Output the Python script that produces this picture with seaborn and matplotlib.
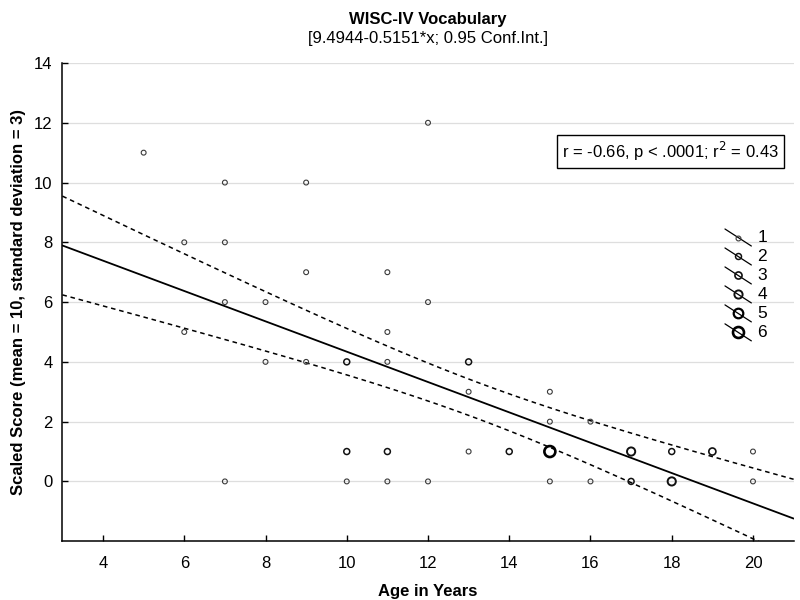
import numpy as np
import pandas as pd
import matplotlib
matplotlib.use("Agg")
import matplotlib.pyplot as plt
import seaborn as sns
from matplotlib.lines import Line2D
from matplotlib.legend_handler import HandlerBase

# =========================
# DATA (age, score, number of overlapping cases)
# =========================
age = [5, 6, 6, 7, 7, 7, 7, 8, 8, 9, 9, 9, 10, 10, 10,
       11, 11, 11, 11, 11, 12, 12, 12, 13, 13, 13, 14,
       15, 15, 15, 15, 16, 16, 17, 17, 18, 18, 19, 20, 20]
score = [11, 8, 5, 10, 8, 6, 0, 6, 4, 10, 7, 4, 4, 1, 0,
         7, 5, 4, 1, 0, 12, 6, 0, 4, 3, 1, 1,
         3, 2, 1, 0, 2, 0, 1, 0, 1, 0, 1, 1, 0]
count = [1, 1, 1, 1, 1, 1, 1, 1, 1, 1, 1, 1, 2, 2, 1,
         1, 1, 1, 2, 1, 1, 1, 1, 2, 1, 1, 2,
         1, 1, 6, 1, 1, 1, 4, 2, 2, 4, 3, 1, 1]

x_ticks = [4, 6, 8, 10, 12, 14, 16, 18, 20]
y_ticks = [0, 2, 4, 6, 8, 10, 12, 14]

df = pd.DataFrame({"age": age, "score": score, "n": count})

# =========================
# REGRESSION + 95% CI (weighted by case count)
# =========================
xs = np.repeat(df["age"].values, df["n"].values).astype(float)
ys = np.repeat(df["score"].values, df["n"].values).astype(float)
N = len(xs)
slope, intercept = np.polyfit(xs, ys, 1)
resid = ys - (intercept + slope * xs)
s = np.sqrt(np.sum(resid ** 2) / (N - 2))
sxx = np.sum((xs - xs.mean()) ** 2)
t = 2.0017  # t(0.975, 58)

grid = np.linspace(3, 21, 200)
fit = intercept + slope * grid
se = s * np.sqrt(1 / N + (grid - xs.mean()) ** 2 / sxx)
lines = pd.DataFrame({"age": grid, "fit": fit, "lo": fit - t * se, "hi": fit + t * se})

# =========================
# STYLE
# =========================
sns.set_theme(style="white")
plt.rcParams["font.family"] = ["Liberation Sans", "DejaVu Sans"]
plt.rcParams["text.color"] = "black"
plt.rcParams["axes.labelcolor"] = "black"

fig = plt.figure(figsize=(8, 6), dpi=100)
ax = fig.add_axes([0.078, 0.098, 0.914, 0.797])

ax.grid(axis="y", color="#dedede", linewidth=0.9)
ax.set_axisbelow(True)

# fit + confidence lines
sns.lineplot(data=lines, x="age", y="fit", color="black", linewidth=1.3, ax=ax)
sns.lineplot(data=lines, x="age", y="lo", color="black", linewidth=1.1, ax=ax)
ax.lines[-1].set_dashes((3, 2.5))
sns.lineplot(data=lines, x="age", y="hi", color="black", linewidth=1.1, ax=ax)
ax.lines[-1].set_dashes((3, 2.5))

# points, one call per overlap count
diam = {1: 3.5, 2: 4.3, 3: 5.1, 4: 5.9, 5: 6.9, 6: 7.9}
lw = {1: 0.8, 2: 1.1, 3: 1.2, 4: 1.4, 5: 1.6, 6: 1.9}
col = {1: "#3a3a3a", 2: "#111111", 3: "#111111", 4: "#111111", 5: "black", 6: "black"}
for k in sorted(df["n"].unique()):
    sub = df[df["n"] == k]
    sns.scatterplot(x=sub["age"], y=sub["score"], s=diam[k] ** 2, marker="o",
                    facecolors="none", edgecolor=col[k], linewidth=lw[k],
                    zorder=3, legend=False, ax=ax)

# =========================
# AXES
# =========================
ax.set_xlim(3, 21)
ax.set_ylim(-2, 14)
ax.set_xticks(x_ticks)
ax.set_yticks(y_ticks)
ax.tick_params(axis="both", direction="in", length=4, width=1, colors="black",
               labelsize=12, bottom=True, left=True, pad=7)
ax.tick_params(axis="x", pad=11)
for side in ["top", "right"]:
    ax.spines[side].set_visible(False)
for side in ["left", "bottom"]:
    ax.spines[side].set_color("black")
    ax.spines[side].set_linewidth(1.1)

ax.set_xlabel("Age in Years", fontsize=12, fontweight="bold", labelpad=9)
ax.set_ylabel("Scaled Score (mean = 10, standard deviation = 3)", fontsize=12,
              fontweight="bold", labelpad=6)

ax.text(0.5, 1.090, "WISC-IV Vocabulary", transform=ax.transAxes, ha="center",
        va="center", fontsize=12, fontweight="bold")
ax.text(0.5, 1.052, "[9.4944-0.5151*x; 0.95 Conf.Int.]", transform=ax.transAxes,
        ha="center", va="center", fontsize=12)

ax.text(0.832, 0.814, r"r = -0.66, p < .0001; r$^2$ = 0.43", transform=ax.transAxes,
        ha="center", va="center", fontsize=12,
        bbox=dict(boxstyle="square,pad=0.3", fc="white", ec="black", lw=1))


# =========================
# LEGEND (diagonal line through marker)
# =========================
class DiagHandler(HandlerBase):
    def create_artists(self, legend, orig, xd, yd, w, h, fontsize, trans):
        ln = Line2D([xd + w * 0.1, xd + w * 0.9], [yd + h * 1.1, yd - h * 0.3],
                    color="black", lw=0.9, transform=trans)
        mk = Line2D([xd + w * 0.5], [yd + h * 0.4], marker="o", ls="none",
                    markersize=orig.get_markersize(), markerfacecolor="none",
                    markeredgecolor=orig.get_markeredgecolor(),
                    markeredgewidth=orig.get_markeredgewidth(), transform=trans)
        return [ln, mk]


handles = [Line2D([], [], marker="o", ls="none", markersize=diam[k],
                  markeredgecolor=col[k], markeredgewidth=lw[k]) for k in range(1, 7)]
ax.legend(handles, [str(k) for k in range(1, 7)], handler_map={Line2D: DiagHandler()},
          loc="upper right", bbox_to_anchor=(0.985, 0.683), frameon=False,
          fontsize=12.5, handlelength=1.9, labelspacing=0.22, handletextpad=0.15)

plt.savefig("out.png", dpi=100)
